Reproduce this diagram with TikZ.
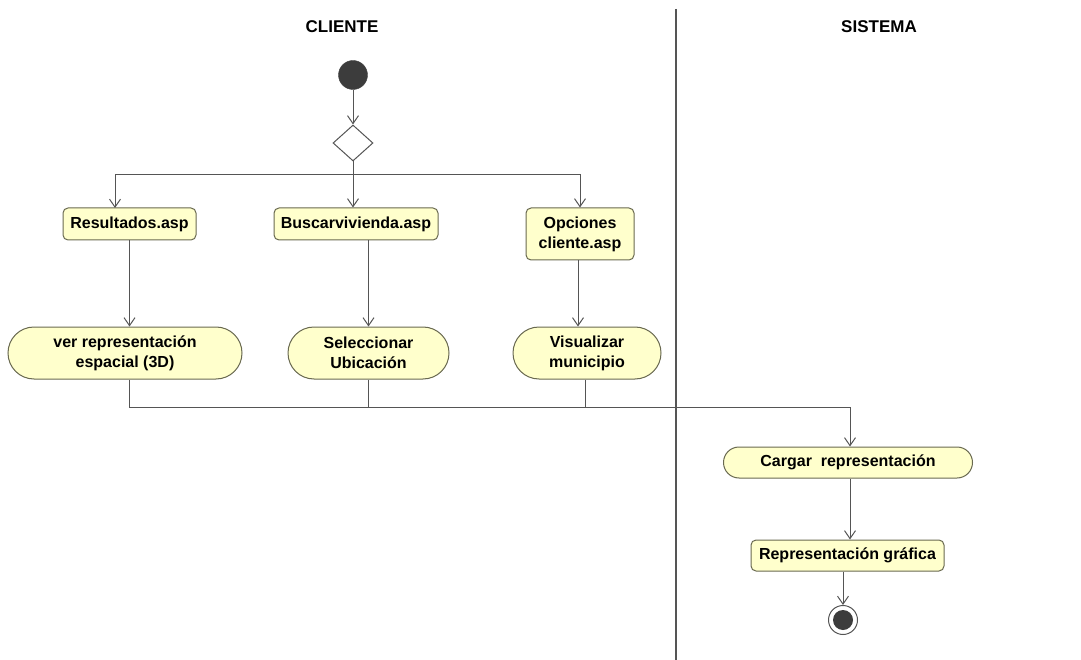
\documentclass[tikz,border=0pt]{standalone}
\usepackage{fontspec}
\setmainfont{Liberation Sans}
\usetikzlibrary{shapes.geometric,arrows.meta}
\definecolor{actfill}{RGB}{255,255,204}
\definecolor{actdraw}{RGB}{105,105,80}
\definecolor{linec}{RGB}{85,85,85}
\definecolor{dotc}{RGB}{60,60,60}
\tikzset{
  act/.style={draw=actdraw, fill=actfill, line width=1pt, rounded corners=5pt, inner sep=0pt,
    align=center, font=\fontsize{16}{20}\selectfont\bfseries},
  oval/.style={act, rounded corners=#1},
  arr/.style={draw=linec, line width=1pt, -{Straight Barb[length=8pt,width=11pt]}},
  ln/.style={draw=linec, line width=1pt},
  lane/.style={font=\fontsize{17}{19}\selectfont\bfseries}
}
\begin{document}
\begin{tikzpicture}[x=1pt,y=-1pt]
\useasboundingbox (0,0) rectangle (1081,660);
% swimlanes
\coordinate (dtop) at (676,9);
\coordinate (dbot) at (676,660);
\draw[line width=1.1pt, draw=linec] (dtop) -- (dbot);
\node[lane] (cliente) at (342,27) {CLIENTE};
\node[lane] (sistema) at (879,27) {SISTEMA};
% nodes
\node[circle, fill=dotc, draw=dotc, minimum size=29pt, inner sep=0pt] (start) at (353,75) {};
\node[diamond, draw=linec, fill=white, line width=1pt, minimum width=40pt, minimum height=36pt, inner sep=0pt] (dia) at (353,143) {};
\node[act, minimum width=133pt, minimum height=32pt] (res) at (129.5,224) {Resultados.asp};
\node[act, minimum width=164pt, minimum height=32pt] (bus) at (356,224) {Buscarvivienda.asp};
\node[act, minimum width=108pt, minimum height=52pt] (opc) at (580,234) {Opciones\\cliente.asp};
\node[oval=26pt, minimum width=234pt, minimum height=52pt] (ver) at (125,353) {ver representación\\espacial (3D)};
\node[oval=26pt, minimum width=161pt, minimum height=52pt] (sel) at (368.5,353) {Seleccionar\\Ubicación};
\node[oval=26pt, minimum width=148pt, minimum height=52pt] (vis) at (587,353) {Visualizar\\municipio};
\node[oval=15.5pt, minimum width=249pt, minimum height=31pt] (car) at (848,462.5) {Cargar~~representación};
\node[act, minimum width=193pt, minimum height=31pt] (rep) at (847.5,555.5) {Representación gráfica};
\node[circle, draw=linec, fill=white, line width=1pt, minimum size=29pt, inner sep=0pt] (fin) at (843,620) {};
\fill[dotc] (fin.center) circle (10pt);
% helper coordinates
\coordinate (split) at (353,175);
\coordinate (resin) at (115,208);
\coordinate (merge) at (850,407);
% connectors
\draw[arr] (start) -- (dia);
\draw[arr] (dia.south) -- (dia.south |- bus.north);
\draw[arr] (split) -| (resin);
\draw[arr] (split) -| (opc.north);
\draw[arr] (res.south) -- (res.south |- ver.north);
\draw[arr] (sel.north |- bus.south) -- (sel.north);
\draw[arr] ([xshift=-2pt]opc.south) -- ([xshift=-2pt]opc.south |- vis.north);
\draw[ln] (res.south |- ver.south) |- (merge);
\draw[ln] (sel.south) -- (sel.south |- merge);
\draw[ln] ([xshift=-2pt]vis.south) -- ([xshift=-2pt]vis.south |- merge);
\draw[arr] (merge) -- (merge |- car.north);
\draw[arr] (merge |- car.south) -- (merge |- rep.north);
\draw[arr] (fin.north |- rep.south) -- (fin.north);
\end{tikzpicture}
\end{document}
